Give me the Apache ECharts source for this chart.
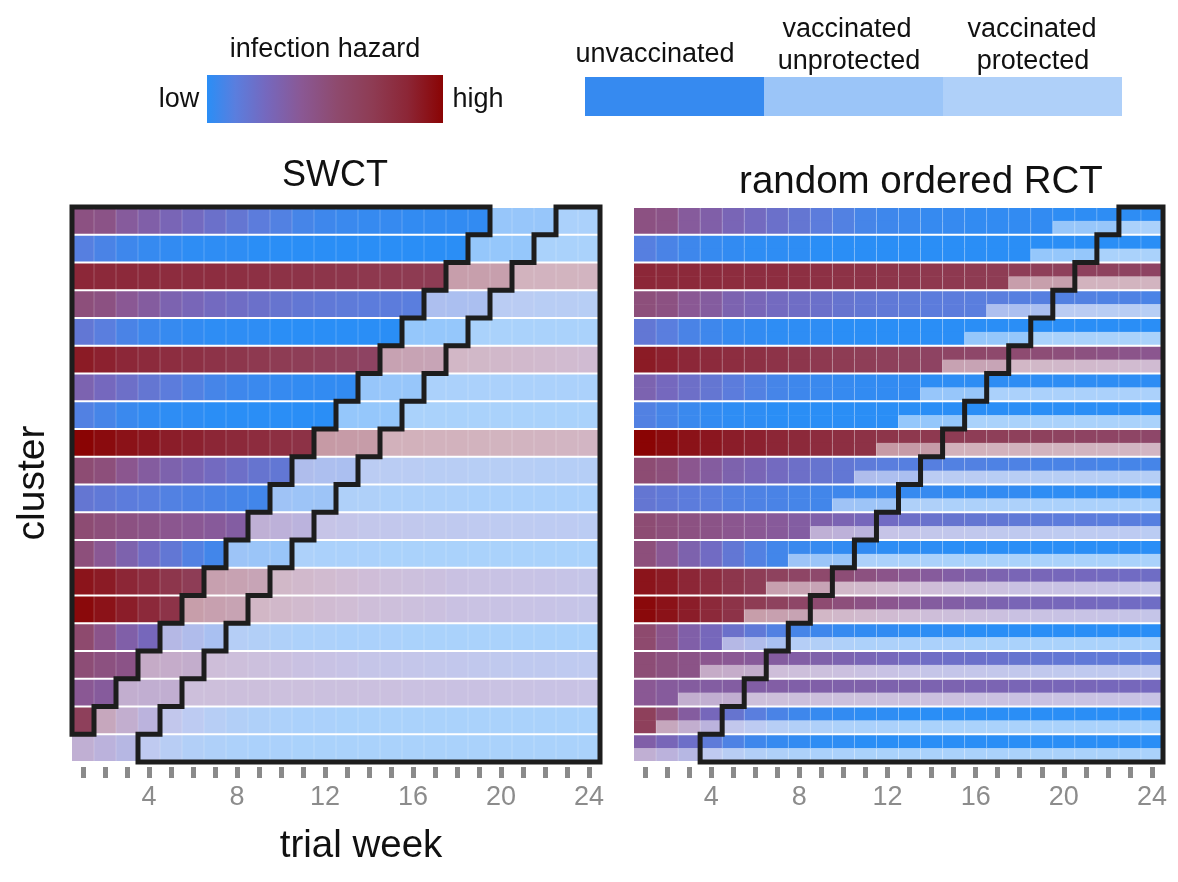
<!DOCTYPE html>
<html>
<head>
<meta charset="utf-8">
<script src="https://cdn.jsdelivr.net/npm/echarts@6/dist/echarts.min.js"></script>
<style>
  html, body { margin: 0; padding: 0; background: #ffffff; }
  #chart { width: 1178px; height: 882px; }
</style>
</head>
<body>
<div id="chart"></div>
<script>
// ---- data -------------------------------------------------------------
const weeks = [1, 2, 3, 4, 5, 6, 7, 8, 9, 10, 11, 12, 13, 14, 15, 16, 17, 18, 19, 20, 21, 22, 23, 24];
const weekLabels = ['1', '2', '3', '4', '5', '6', '7', '8', '9', '10', '11', '12',
                    '13', '14', '15', '16', '17', '18', '19', '20', '21', '22', '23', '24'];
const clusters = [1, 2, 3, 4, 5, 6, 7, 8, 9, 10, 11, 12, 13, 14, 15, 16, 17, 18, 19, 20];

// first vaccinated week of each cluster (top row first)
const vaccWeekSWCT = [20, 19, 18, 17, 16, 15, 14, 13, 12, 11, 10, 9, 8, 7, 6, 5, 4, 3, 2, 1];
const vaccWeekRCT  = [20, 19, 18, 17, 16, 15, 14, 13, 12, 11, 10, 9, 8, 7, 6, 5, 4, 3, 2, 1];
// weeks between vaccination and protection
const unprotectedWeeks = 3;

// weekly infection hazard of each cluster (0 = low, 1 = high)
const hazardByCluster = [
  [0.47, 0.45, 0.37, 0.33, 0.28, 0.24, 0.20, 0.17, 0.13, 0.10, 0.07, 0.05, 0.04, 0.03, 0.03, 0.02, 0.02, 0.02, 0.02, 0.01, 0.01, 0.01, 0.01, 0.01],
  [0.11, 0.08, 0.05, 0.03, 0.02, 0.01, 0.01, 0.01, 0.00, 0.00, 0.00, 0.00, 0.00, 0.00, 0.00, 0.00, 0.00, 0.00, 0.00, 0.00, 0.00, 0.00, 0.00, 0.00],
  [0.84, 0.83, 0.83, 0.82, 0.81, 0.80, 0.80, 0.79, 0.78, 0.77, 0.76, 0.75, 0.74, 0.73, 0.72, 0.71, 0.70, 0.68, 0.67, 0.66, 0.65, 0.64, 0.63, 0.62],
  [0.50, 0.47, 0.40, 0.36, 0.30, 0.27, 0.24, 0.22, 0.20, 0.18, 0.16, 0.15, 0.14, 0.13, 0.13, 0.12, 0.12, 0.11, 0.11, 0.10, 0.10, 0.09, 0.09, 0.08],
  [0.16, 0.12, 0.08, 0.05, 0.03, 0.02, 0.01, 0.01, 0.01, 0.00, 0.00, 0.00, 0.00, 0.00, 0.00, 0.00, 0.00, 0.00, 0.00, 0.00, 0.00, 0.00, 0.00, 0.00],
  [0.90, 0.87, 0.84, 0.82, 0.80, 0.78, 0.76, 0.74, 0.72, 0.70, 0.68, 0.66, 0.64, 0.62, 0.60, 0.58, 0.56, 0.54, 0.52, 0.50, 0.48, 0.46, 0.44, 0.42],
  [0.30, 0.25, 0.21, 0.17, 0.13, 0.10, 0.07, 0.05, 0.04, 0.03, 0.02, 0.02, 0.02, 0.01, 0.01, 0.01, 0.01, 0.01, 0.01, 0.01, 0.01, 0.01, 0.01, 0.01],
  [0.10, 0.07, 0.04, 0.02, 0.01, 0.01, 0.00, 0.00, 0.00, 0.00, 0.00, 0.00, 0.00, 0.00, 0.00, 0.00, 0.00, 0.00, 0.00, 0.00, 0.00, 0.00, 0.00, 0.00],
  [1.00, 0.97, 0.94, 0.92, 0.89, 0.87, 0.85, 0.83, 0.81, 0.79, 0.77, 0.75, 0.73, 0.72, 0.70, 0.69, 0.67, 0.66, 0.65, 0.63, 0.62, 0.61, 0.60, 0.58],
  [0.53, 0.50, 0.42, 0.36, 0.31, 0.28, 0.24, 0.21, 0.18, 0.16, 0.14, 0.12, 0.11, 0.11, 0.10, 0.10, 0.09, 0.09, 0.08, 0.08, 0.08, 0.07, 0.07, 0.07],
  [0.17, 0.15, 0.13, 0.12, 0.10, 0.09, 0.08, 0.07, 0.06, 0.05, 0.04, 0.04, 0.03, 0.03, 0.02, 0.02, 0.02, 0.02, 0.01, 0.01, 0.01, 0.01, 0.01, 0.01],
  [0.53, 0.50, 0.47, 0.45, 0.42, 0.40, 0.38, 0.35, 0.32, 0.29, 0.26, 0.23, 0.21, 0.19, 0.18, 0.17, 0.16, 0.15, 0.14, 0.13, 0.13, 0.12, 0.12, 0.11],
  [0.50, 0.40, 0.31, 0.23, 0.16, 0.10, 0.06, 0.04, 0.03, 0.02, 0.02, 0.01, 0.01, 0.01, 0.00, 0.00, 0.00, 0.00, 0.00, 0.00, 0.00, 0.00, 0.00, 0.00],
  [0.93, 0.90, 0.85, 0.80, 0.74, 0.69, 0.64, 0.60, 0.56, 0.52, 0.48, 0.44, 0.40, 0.37, 0.34, 0.32, 0.30, 0.28, 0.27, 0.26, 0.25, 0.24, 0.23, 0.22],
  [0.98, 0.94, 0.89, 0.83, 0.76, 0.70, 0.64, 0.59, 0.54, 0.50, 0.46, 0.42, 0.39, 0.36, 0.34, 0.32, 0.30, 0.28, 0.27, 0.26, 0.25, 0.24, 0.23, 0.22],
  [0.55, 0.44, 0.33, 0.26, 0.20, 0.15, 0.10, 0.07, 0.05, 0.03, 0.02, 0.02, 0.01, 0.01, 0.01, 0.00, 0.00, 0.00, 0.00, 0.00, 0.00, 0.00, 0.00, 0.00],
  [0.52, 0.48, 0.45, 0.42, 0.40, 0.38, 0.36, 0.34, 0.32, 0.30, 0.28, 0.26, 0.24, 0.22, 0.21, 0.20, 0.19, 0.18, 0.17, 0.16, 0.15, 0.15, 0.14, 0.14],
  [0.40, 0.37, 0.36, 0.35, 0.35, 0.34, 0.34, 0.33, 0.33, 0.32, 0.32, 0.31, 0.31, 0.30, 0.30, 0.29, 0.29, 0.28, 0.28, 0.27, 0.27, 0.26, 0.26, 0.25],
  [0.66, 0.50, 0.36, 0.26, 0.18, 0.12, 0.08, 0.05, 0.03, 0.02, 0.01, 0.01, 0.00, 0.00, 0.00, 0.00, 0.00, 0.00, 0.00, 0.00, 0.00, 0.00, 0.00, 0.00],
  [0.33, 0.27, 0.21, 0.14, 0.09, 0.05, 0.03, 0.02, 0.01, 0.01, 0.00, 0.00, 0.00, 0.00, 0.00, 0.00, 0.00, 0.00, 0.00, 0.00, 0.00, 0.00, 0.00, 0.00]
];

// ---- colours ------------------------------------------------------------
const hazardStops = [
  [0.00, '#2a8ef6'], [0.12, '#5a7ede'], [0.25, '#7568be'], [0.40, '#8a5894'],
  [0.55, '#8e4a6e'], [0.70, '#8e3c54'], [0.85, '#8c2636'], [1.00, '#8a0404']
];
// share of white mixed in for each status: unvaccinated, unprotected, protected
const statusWhite = [0, 0.5, 0.6];

function hexToRgb(h) {
  return [parseInt(h.slice(1, 3), 16), parseInt(h.slice(3, 5), 16), parseInt(h.slice(5, 7), 16)];
}
function rgbStr(c) {
  return 'rgb(' + c.map(v => Math.round(v)).join(',') + ')';
}
function hazardRgb(h) {
  h = Math.max(0, Math.min(1, h));
  for (let i = 1; i < hazardStops.length; i++) {
    if (h <= hazardStops[i][0]) {
      const a = hazardStops[i - 1], b = hazardStops[i];
      const t = (h - a[0]) / (b[0] - a[0]);
      const ca = hexToRgb(a[1]), cb = hexToRgb(b[1]);
      return ca.map((v, k) => v + (cb[k] - v) * t);
    }
  }
  return hexToRgb(hazardStops[hazardStops.length - 1][1]);
}
function cellColour(h, status) {
  const c = hazardRgb(h);
  const t = statusWhite[status];
  return rgbStr(c.map(v => v + (255 - v) * t));
}
function statusOf(week, vaccWeek) {
  if (week < vaccWeek) return 0;
  if (week < vaccWeek + unprotectedWeeks) return 1;
  return 2;
}

// ---- series data ----------------------------------------------------------
function cellData(vaccWeeks) {
  const out = [];
  clusters.forEach((c, r) => {
    weeks.forEach((w, i) => {
      out.push([w, r, hazardByCluster[r][i], statusOf(w, vaccWeeks[r])]);
    });
  });
  return out;
}

// outline around the unvaccinated block (left edge + staircase)
function unvaccOutline(vaccWeeks) {
  const pts = [[0, 0]];
  for (let r = 0; r < vaccWeeks.length; r++) {
    const x = vaccWeeks[r] - 1;
    if (x <= 0) { pts.push([0, r]); break; }
    pts.push([x, r], [x, r + 1]);
  }
  return pts;
}
// outline around the protected block (staircase + right and bottom edges)
function protectedOutline(vaccWeeks) {
  const n = vaccWeeks.length, W = weeks.length;
  const pts = [[W, 0], [W, n]];
  for (let r = n - 1; r >= 0; r--) {
    const x = vaccWeeks[r] - 1 + unprotectedWeeks;
    pts.push([x, r + 1], [x, r]);
  }
  return pts;
}

// ---- render helpers ---------------------------------------------------------
function cellRect(api, w, r) {
  const p0 = api.coord([w - 1, r]);
  const p1 = api.coord([w, r + 1]);
  return { x: p0[0], y: p0[1] + 1, width: p1[0] - p0[0], height: p1[1] - p0[1] - 2 };
}

function renderSWCTCell(params, api) {
  const w = api.value(0), r = api.value(1), h = api.value(2), s = api.value(3);
  return {
    type: 'rect',
    shape: cellRect(api, w, r),
    style: { fill: cellColour(h, s) }
  };
}

// RCT: upper half of each cluster row is the control arm, lower half the vaccine arm
function renderRCTCell(params, api) {
  const w = api.value(0), r = api.value(1), h = api.value(2), s = api.value(3);
  const box = cellRect(api, w, r);
  const half = box.height / 2;
  return {
    type: 'group',
    children: [
      { type: 'rect', shape: { x: box.x, y: box.y, width: box.width, height: half + 0.5 },
        style: { fill: cellColour(h, 0) } },
      { type: 'rect', shape: { x: box.x, y: box.y + half, width: box.width, height: half },
        style: { fill: cellColour(h, s) } }
    ]
  };
}

function renderColumnLine(params, api) {
  const w = api.value(0);
  const a = api.coord([w, 0]), b = api.coord([w, clusters.length]);
  return {
    type: 'line',
    shape: { x1: a[0], y1: a[1], x2: b[0], y2: b[1] },
    style: { stroke: 'rgba(255,255,255,0.22)', lineWidth: 1 }
  };
}

function outlineRenderer(points) {
  return function (params, api) {
    return {
      type: 'polygon',
      shape: { points: points.map(p => api.coord(p)) },
      style: { fill: null, stroke: '#1d1d1d', lineWidth: 5, lineJoin: 'miter' },
      z2: 10
    };
  };
}

// ---- option -------------------------------------------------------------------
const FONT = '"Liberation Sans", Arial, Helvetica, sans-serif';
const gridTop = 207, gridHeight = 555;

function weekAxis(gridIndex) {
  return {
    type: 'category', gridIndex: gridIndex, data: weekLabels, position: 'bottom',
    offset: 5, boundaryGap: true,
    axisLine: { show: false },
    axisTick: { show: true, alignWithLabel: true, interval: 0, length: 11,
                lineStyle: { color: '#8a8a8a', width: 5 } },
    axisLabel: { interval: (i) => (i + 1) % 4 === 0, color: '#8c8c8c', fontSize: 27,
                 fontFamily: FONT, margin: 17 },
    splitLine: { show: false }
  };
}
function hiddenX(gridIndex) {
  return { type: 'value', gridIndex: gridIndex, min: 0, max: weeks.length, show: false };
}
function hiddenY(gridIndex) {
  return { type: 'value', gridIndex: gridIndex, min: 0, max: clusters.length, inverse: true, show: false };
}

const columnBreaks = weeks.slice(0, weeks.length - 1).map(w => [w]);

const legendGradient = hazardStops.map(s => ({ offset: s[0], color: s[1] }));
const legendStatusColours = [cellColour(0.03, 0), cellColour(0.03, 1), cellColour(0.03, 2)];

function txt(text, x, y, size, extra) {
  return Object.assign({
    type: 'text', x: x, y: y,
    style: { text: text, fontSize: size, fontFamily: FONT, fill: '#111',
             align: 'center', verticalAlign: 'middle', textAlign: 'center', textVerticalAlign: 'middle' }
  }, extra || {});
}

const option = {
  backgroundColor: '#ffffff',
  animation: false,
  grid: [
    { left: 72, top: gridTop, width: 528, height: gridHeight },
    { left: 634, top: gridTop, width: 529, height: gridHeight }
  ],
  xAxis: [hiddenX(0), weekAxis(0), hiddenX(1), weekAxis(1)],
  yAxis: [hiddenY(0), hiddenY(1)],
  series: [
    { type: 'custom', xAxisIndex: 0, yAxisIndex: 0, renderItem: renderSWCTCell,
      data: cellData(vaccWeekSWCT), encode: { x: 0, y: 1 }, silent: true },
    { type: 'custom', xAxisIndex: 0, yAxisIndex: 0, renderItem: renderColumnLine,
      data: columnBreaks, encode: { x: 0 }, silent: true },
    { type: 'custom', xAxisIndex: 0, yAxisIndex: 0, renderItem: outlineRenderer(unvaccOutline(vaccWeekSWCT)),
      data: [[0, 0]], silent: true, z: 5 },
    { type: 'custom', xAxisIndex: 0, yAxisIndex: 0, renderItem: outlineRenderer(protectedOutline(vaccWeekSWCT)),
      data: [[0, 0]], silent: true, z: 5 },

    { type: 'custom', xAxisIndex: 2, yAxisIndex: 1, renderItem: renderRCTCell,
      data: cellData(vaccWeekRCT), encode: { x: 0, y: 1 }, silent: true },
    { type: 'custom', xAxisIndex: 2, yAxisIndex: 1, renderItem: renderColumnLine,
      data: columnBreaks, encode: { x: 0 }, silent: true },
    { type: 'custom', xAxisIndex: 2, yAxisIndex: 1, renderItem: outlineRenderer(protectedOutline(vaccWeekRCT)),
      data: [[0, 0]], silent: true, z: 5 }
  ],
  graphic: [
    // hazard colour key
    txt('infection hazard', 325, 50, 27),
    { type: 'rect', shape: { x: 207, y: 75, width: 236, height: 48 },
      style: { fill: { type: 'linear', x: 0, y: 0, x2: 1, y2: 0, colorStops: legendGradient } } },
    txt('low', 179, 100, 27),
    txt('high', 478, 100, 27),

    // status key
    { type: 'rect', shape: { x: 585, y: 77, width: 179, height: 39 }, style: { fill: legendStatusColours[0] } },
    { type: 'rect', shape: { x: 764, y: 77, width: 179, height: 39 }, style: { fill: legendStatusColours[1] } },
    { type: 'rect', shape: { x: 943, y: 77, width: 179, height: 39 }, style: { fill: legendStatusColours[2] } },
    txt('unvaccinated', 655, 55, 27),
    txt('vaccinated', 847, 30, 27),
    txt('unprotected', 849, 62, 27),
    txt('vaccinated', 1032, 30, 27),
    txt('protected', 1033, 62, 27),

    // panel titles
    txt('SWCT', 335, 176, 36),
    txt('random ordered RCT', 921, 182, 38.5),

    // axis titles
    txt('cluster', 33, 483, 39, { rotation: Math.PI / 2 }),
    txt('trial week', 361, 846, 38.5)
  ]
};

const chart = echarts.init(document.getElementById('chart'), null, { renderer: 'canvas' });
chart.setOption(option);
</script>
</body>
</html>
